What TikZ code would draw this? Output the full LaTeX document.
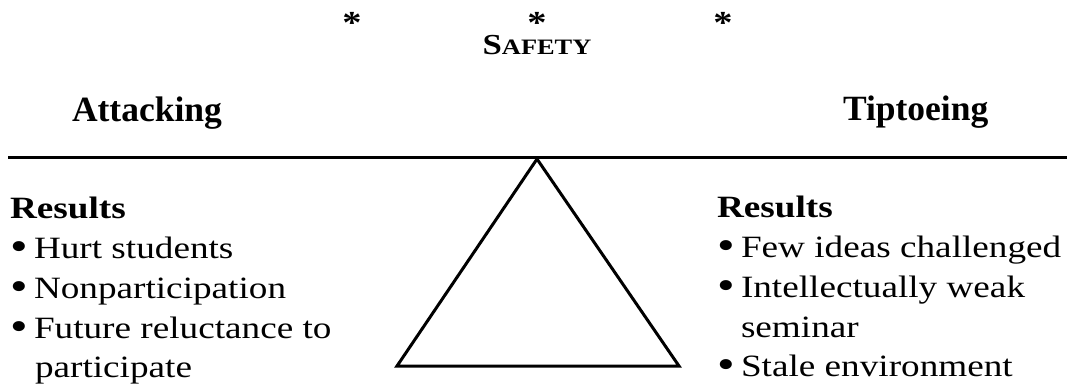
\documentclass[tikz,border=0pt]{standalone}
\usepackage{fontspec}
\setmainfont{Liberation Serif}[FakeStretch=1.2]
\newfontfamily\headfont{Liberation Serif}
\newcommand{\bodysize}{\fontsize{31}{40}\selectfont}
\newcommand{\headsize}{\fontsize{35.5}{42}\selectfont}
\newcommand{\bl}{\makebox[24pt][l]{\raisebox{-2pt}{\fontsize{42}{42}\selectfont\textbullet}}}
\newcommand{\smcp}[2]{#1{\fontsize{22}{26}\selectfont #2}}
\begin{document}
\begin{tikzpicture}[x=1pt,y=-1pt,
  txt/.style={inner sep=0pt,outer sep=0pt,anchor=base west,font=\bodysize},
  hd/.style={inner sep=0pt,outer sep=0pt,anchor=base west,font=\headfont\headsize\bfseries},
  star/.style={inner sep=0pt,anchor=base,font=\fontsize{32}{32}\selectfont\bfseries},
  rule/.style={line width=3pt},
  tri/.style={line width=3pt,line join=miter}]
\useasboundingbox (0,0) rectangle (1067,386);
% stars
\node[star] (s1) at (352,33) {\smash{*}};
\node[star] (s2) at (537,33) {\smash{*}};
\node[star] (s3) at (723,33) {\smash{*}};
% safety
\node[inner sep=0pt,anchor=base,font=\fontsize{29}{32}\selectfont\bfseries] (safety) at (537,54) {\smcp{S}{AFETY}};
% headings
\node[hd] (att) at (72,121) {Attacking};
\node[hd] (tip) at (843,120) {Tiptoeing};
% beam
\coordinate (bl) at (8,157);
\coordinate (br) at (1067,157);
\draw[rule] (bl) -- (br);
% fulcrum
\coordinate (apex) at (537,159);
\coordinate (lb) at (397,366);
\coordinate (rb) at (679,366);
\draw[tri] (apex) -- (lb) -- (rb) -- cycle;
% left results
\node[txt,font=\bodysize\bfseries] (lr) at (10,218) {Results};
\node[txt] (l1) at (10,258) {\bl Hurt students};
\node[txt] (l2) at (10,298) {\bl Nonparticipation};
\node[txt] (l3) at (10,338) {\bl Future reluctance to};
\node[txt] (l4) at (35,377) {participate};
% right results
\node[txt,font=\bodysize\bfseries] (rr) at (717,217) {Results};
\node[txt] (r1) at (717,257) {\bl Few ideas challenged};
\node[txt] (r2) at (717,297) {\bl Intellectually weak};
\node[txt] (r3) at (741,337) {seminar};
\node[txt] (r4) at (717,376) {\bl Stale environment};
\end{tikzpicture}
\end{document}
